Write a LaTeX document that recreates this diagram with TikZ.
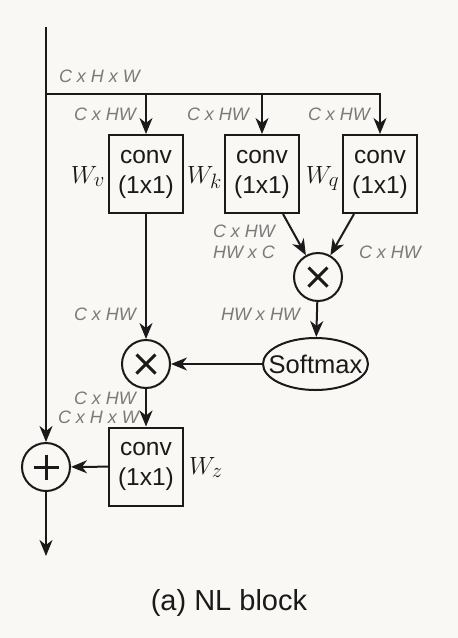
\documentclass[tikz,border=0pt]{standalone}
\usepackage{fontspec}
\setmainfont{Liberation Sans}
\usetikzlibrary{arrows.meta,shapes.geometric,calc}
\definecolor{bg}{HTML}{F9F8F4}
\definecolor{lab}{HTML}{7A7A7A}
\definecolor{ink}{HTML}{1A1A1A}
\begin{document}
\begin{tikzpicture}[x=1pt,y=-1pt, line width=2pt, draw=ink,
  >={Stealth[length=16pt,width=13pt,inset=5pt]},
  box/.style={draw=ink, minimum width=74pt, minimum height=78pt, inner sep=0pt, align=center, text=ink, font=\fontsize{24.5}{30}\selectfont},
  opc/.style={draw=ink, circle, minimum size=48pt, inner sep=0pt},
  dim/.style={text=lab, font=\fontsize{18}{21}\selectfont\itshape, inner sep=0pt},
  wlab/.style={text=ink, font=\fontsize{28}{30}\selectfont, inner sep=0pt},
  sym/.style={line width=3pt, draw=ink}]
\useasboundingbox (0,0) rectangle (458,638);
\fill[bg] (0,0) rectangle (458,638);
% coordinates
\coordinate (top) at (46,27);
\coordinate (jn) at (46,94);
\coordinate (br1) at (146,94);
\coordinate (br2) at (262,94);
\coordinate (br3) at (380,94);
\coordinate (out) at (46,556);
% nodes
\node[box] (wv) at (146,174) {conv\\(1x1)};
\node[box] (wk) at (262,174) {conv\\(1x1)};
\node[box] (wq) at (380,174) {conv\\(1x1)};
\node[opc] (m1) at (318,277) {};
\node[draw=ink, ellipse, minimum width=105pt, minimum height=52pt, inner sep=0pt,
      label={[text=ink, font=\fontsize{25.5}{30}\selectfont, inner sep=0pt]center:Softmax}] (sm) at (315.5,364) {};
\node[opc] (m2) at (146,364) {};
\node[box] (wz) at (146,466.5) {conv\\(1x1)};
\node[opc] (pl) at (46,467) {};
\coordinate (ks) at ($(wk.south)+(21,0)$);
\coordinate (qs) at ($(wq.south)+(-26,0)$);
% symbols
\draw[sym] ($(m1)+(-9.5,-9.5)$) -- ($(m1)+(9.5,9.5)$);
\draw[sym] ($(m1)+(-9.5,9.5)$) -- ($(m1)+(9.5,-9.5)$);
\draw[sym] ($(m2)+(-9.5,-9.5)$) -- ($(m2)+(9.5,9.5)$);
\draw[sym] ($(m2)+(-9.5,9.5)$) -- ($(m2)+(9.5,-9.5)$);
\draw[sym] ($(pl)+(-12.5,0)$) -- ($(pl)+(12.5,0)$);
\draw[sym] ($(pl)+(0,-12.5)$) -- ($(pl)+(0,12.5)$);
% connectors
\draw[->] (top) -- (pl.north);
\draw (jn) -- (br1);
\draw[->] (jn) -- (br3) -- (wq.north);
\draw[->] (br1) -- (wv.north);
\draw[->] (br2) -- (wk.north);
\draw[->] (ks) -- (m1);
\draw[->] (qs) -- (m1);
\draw[->] (wv) -- (m2);
\draw[->] (m1) -- (sm);
\draw[->] (sm) -- (m2);
\draw[->] (m2) -- (wz);
\draw[->] (wz) -- (pl);
\draw[->] (pl) -- (out);
% dimension labels
\node[dim, anchor=west] (d0) at (58,76) {C x H x W};
\node[dim, anchor=east] (d1) at (137,114) {C x HW};
\node[dim, anchor=east] (d2) at (250,114) {C x HW};
\node[dim, anchor=east] (d3) at (371,114) {C x HW};
\node[dim, anchor=east] (d4) at (276,231) {C x HW};
\node[dim, anchor=east] (d5) at (276,252) {HW x C};
\node[dim, anchor=west] (d6) at (358,252) {C x HW};
\node[dim, anchor=east] (d7) at (301,314) {HW x HW};
\node[dim, anchor=east] (d8) at (137,314) {C x HW};
\node[dim, anchor=east] (d9) at (137,398) {C x HW};
\node[dim, anchor=east] (d10) at (140,417) {C x H x W};
% weight labels
\node[wlab, anchor=base east] (lv) at (106,183) {$W_v$};
\node[wlab, anchor=base east] (lk) at (223,183) {$W_k$};
\node[wlab, anchor=base east] (lq) at (340,183) {$W_q$};
\node[wlab, anchor=base west] (lz) at (188,474) {$W_z$};
% caption
\node[text=ink, font=\fontsize{29}{32}\selectfont, inner sep=0pt] (cap) at (229,603) {(a) NL block};
\end{tikzpicture}
\end{document}
